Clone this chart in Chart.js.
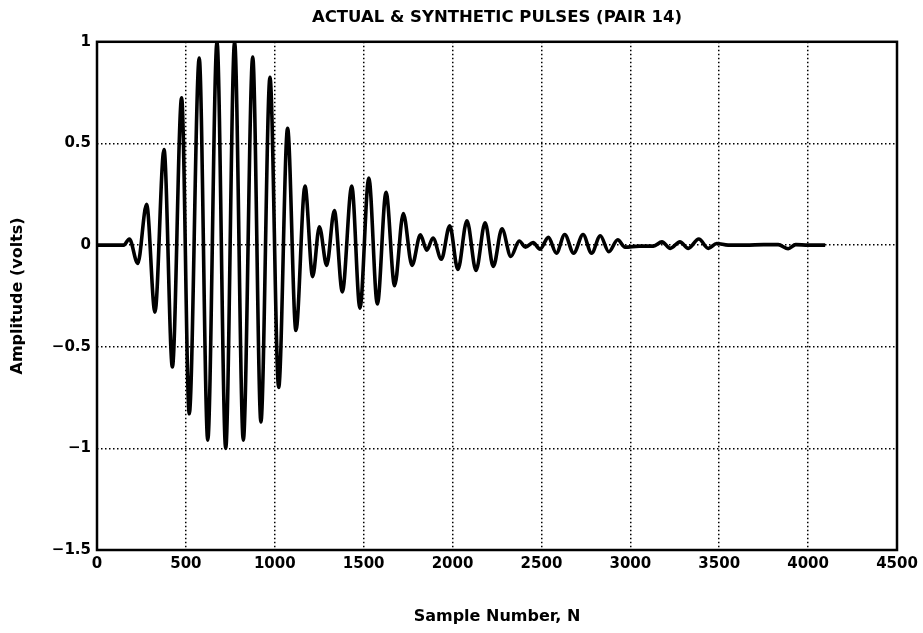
<!DOCTYPE html>
<html>
<head>
<meta charset="utf-8">
<script src="https://cdn.jsdelivr.net/npm/chart.js@4/dist/chart.umd.min.js"></script>
<style>
  html, body { margin: 0; padding: 0; background: #fff; }
  #wrap { width: 923px; height: 633px; }
</style>
</head>
<body>
<div id="wrap"><canvas id="pulse"></canvas></div>
<script>
// ── Data (turning points of the pulse) ──
const sampleN = [
  0, 150, 182, 229, 279, 326, 377, 424, 476, 519, 575, 623, 675, 724, 774, 823,
  876, 922, 973, 1022, 1072, 1119, 1170, 1213, 1251, 1292, 1335, 1380, 1433, 1479,
  1529, 1577, 1626, 1674, 1723, 1772, 1819, 1855, 1890, 1937, 1984, 2030, 2081,
  2132, 2183, 2229, 2278, 2328, 2375, 2410, 2453, 2492, 2539, 2584, 2631, 2681,
  2734, 2782, 2831, 2879, 2929, 2970, 3050, 3130, 3178, 3225, 3279, 3326, 3385,
  3439, 3486, 3550, 3650, 3750, 3832, 3888, 3930, 4000, 4096
];
const amplitude = [
  0, 0, 0.03, -0.09, 0.2, -0.33, 0.47, -0.6, 0.725, -0.83, 0.92, -0.96, 1.0, -1.0, 1.0, -0.96,
  0.925, -0.87, 0.825, -0.70, 0.575, -0.42, 0.29, -0.155, 0.09, -0.1, 0.17, -0.23, 0.29, -0.31,
  0.33, -0.29, 0.26, -0.2, 0.155, -0.1, 0.05, -0.025, 0.035, -0.07, 0.095, -0.12, 0.12,
  -0.125, 0.11, -0.105, 0.08, -0.056, 0.02, -0.01, 0.012, -0.02, 0.038, -0.04, 0.052, -0.04,
  0.052, -0.04, 0.046, -0.033, 0.026, -0.01, -0.005, -0.005, 0.016, -0.016, 0.016, -0.016, 0.03,
  -0.016, 0.008, 0, 0, 0.002, 0.002, -0.018, 0.002, 0, 0
];
const xTicks = [0, 500, 1000, 1500, 2000, 2500, 3000, 3500, 4000, 4500];
const yTicks = [1, 0.5, 0, -0.5, -1, -1.5];

const titleText = 'ACTUAL & SYNTHETIC PULSES (PAIR 14)';
const xTitle = 'Sample Number, N';
const yTitle = 'Amplitude (volts)';

const FONT = '"DejaVu Sans", sans-serif';

// ── Frame round the plot area ──
const frame = {
  id: 'frame',
  afterDraw(chart) {
    const {ctx, chartArea: a} = chart;
    ctx.save();
    ctx.strokeStyle = '#000';
    ctx.lineWidth = 2.5;
    ctx.strokeRect(a.left, a.top, a.right - a.left, a.bottom - a.top);
    ctx.restore();
  }
};

const points = sampleN.map((n, i) => ({x: n, y: amplitude[i]}));

const gridDotted = {color: '#000', lineWidth: 1.5, drawTicks: false};
const tickFont = {family: FONT, size: 15, weight: 'bold'};
const titleFont = {family: FONT, size: 16, weight: 'bold'};
const minus = v => String(v).replace('-', '\u2212');

new Chart(document.getElementById('pulse').getContext('2d'), {
  type: 'line',
  data: {
    datasets: [{
      label: 'Pulse',
      data: points,
      borderColor: '#000',
      borderWidth: 3.6,
      pointRadius: 0,
      cubicInterpolationMode: 'monotone',
      fill: false
    }]
  },
  options: {
    responsive: true,
    maintainAspectRatio: false,
    animation: false,
    layout: {padding: {left: 0, right: 26, top: 0, bottom: 0}},
    plugins: {
      legend: {display: false},
      tooltip: {enabled: false},
      title: {
        display: true, text: titleText, fullSize: false, color: '#000',
        font: {family: FONT, size: 16.5, weight: 'bold'},
        padding: {top: 8, bottom: 14}
      }
    },
    scales: {
      x: {
        type: 'linear', min: 0, max: 4500,
        afterBuildTicks: s => { s.ticks = xTicks.map(v => ({value: v})); },
        afterFit: s => { s.height = 83; },
        ticks: {color: '#000', font: tickFont, padding: 5, maxRotation: 0, autoSkip: false,
          callback: v => String(v)},
        grid: gridDotted,
        border: {display: false, dash: [1.5, 2.5]},
        title: {display: true, text: xTitle, color: '#000', font: titleFont,
          padding: {top: 0, bottom: 7}}
      },
      y: {
        type: 'linear', min: -1.5, max: 1,
        afterBuildTicks: s => { s.ticks = yTicks.map(v => ({value: v})); },
        afterFit: s => { s.width = 97; },
        ticks: {color: '#000', font: tickFont, padding: 6, callback: v => minus(v)},
        grid: gridDotted,
        border: {display: false, dash: [1.5, 2.5]},
        title: {display: true, text: yTitle, color: '#000', font: titleFont,
          padding: {top: 8, bottom: 0}}
      }
    }
  },
  plugins: [frame]
});
</script>
</body>
</html>
